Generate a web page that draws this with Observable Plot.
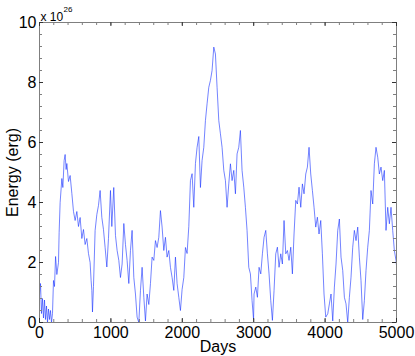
<!DOCTYPE html>
<html>
<head>
<meta charset="utf-8">
<script src="https://cdn.jsdelivr.net/npm/d3@7"></script>
<script src="https://cdn.jsdelivr.net/npm/@observablehq/plot@0.6"></script>
<style>
  html, body { margin: 0; padding: 0; background: #fff; }
</style>
</head>
<body>
<div id="chart"></div>
<script>
const days = [0,14,28,42,56,70,84,98,112,126,140,154,168,182,196,210,225,243,266,275,289,313,327,345,359,373,383,406,429,453,476,499,523,546,569,593,616,639,663,686,709,723,733,742,756,779,803,826,849,873,896,919,943,966,994,1013,1040,1064,1087,1111,1134,1157,1181,1204,1227,1251,1274,1297,1321,1344,1367,1391,1414,1437,1461,1484,1507,1531,1554,1577,1601,1624,1647,1671,1694,1717,1741,1764,1787,1811,1834,1857,1881,1904,1927,1951,1974,1997,2021,2044,2067,2091,2114,2137,2161,2184,2207,2231,2254,2277,2301,2324,2347,2371,2394,2417,2441,2464,2487,2511,2534,2557,2581,2604,2627,2651,2674,2697,2721,2744,2767,2791,2814,2837,2861,2884,2907,2931,2954,2977,2998,3005,3029,3052,3075,3099,3122,3145,3169,3192,3215,3239,3262,3285,3309,3332,3355,3379,3402,3425,3449,3472,3495,3519,3542,3565,3589,3612,3635,3659,3682,3705,3729,3752,3775,3799,3822,3845,3869,3892,3915,3939,3962,3985,4009,4037,4060,4083,4107,4130,4153,4177,4200,4223,4247,4270,4293,4317,4340,4363,4387,4410,4433,4457,4480,4503,4527,4550,4573,4597,4620,4643,4667,4690,4713,4737,4760,4783,4807,4830,4853,4877,4900,4923,4947,4970,4993,5000];
const energy = [0.9,1.3,0.3,0.8,0.15,0.75,0.1,0.55,0.0,0.45,0.1,0.4,0.0,0.3,1.4,1.2,2.2,1.6,2.0,3.0,4.0,4.8,4.5,5.4,5.6,5.1,5.3,4.7,4.9,4.3,3.7,3.4,3.7,3.2,3.5,2.8,3.1,2.6,2.8,2.3,2.0,1.4,1.07,0.35,1.2,3.07,3.6,3.9,4.4,3.5,3.1,2.5,1.85,2.8,4.4,3.2,4.5,2.9,2.4,2.07,1.5,1.95,3.3,2.6,2.07,1.3,2.4,3.07,1.5,0.95,0.18,0.0,1.07,1.84,0.84,0.05,0.95,0.6,1.3,2.18,2.07,2.73,2.5,2.84,3.73,3.18,2.4,2.84,2.18,2.4,1.84,1.5,1.07,2.18,1.3,0.84,0.4,1.1,1.5,2.5,2.3,3.2,4.73,4.96,3.84,5.3,5.84,6.2,4.5,5.4,5.84,6.73,7.29,7.84,8.07,8.4,9.18,8.95,7.84,6.73,6.29,5.84,5.07,4.73,3.84,4.62,5.29,4.73,5.07,4.29,5.62,5.84,6.4,5.07,4.51,3.84,3.07,1.84,1.62,0.73,0.1,0.95,1.18,0.84,1.84,1.62,2.29,2.84,3.07,2.29,1.62,0.73,0.07,1.07,2.29,2.51,1.84,2.29,1.95,3.4,2.29,2.4,2.07,2.51,1.62,2.95,4.07,3.95,4.51,3.84,4.62,4.29,4.95,5.18,5.84,4.95,4.4,3.84,3.18,3.51,2.95,3.4,2.29,0.95,0.18,0.29,0.62,0.95,0.05,1.18,1.95,3.07,3.45,2.18,1.73,0.84,0.62,0.0,0.84,1.51,2.51,3.07,2.73,3.18,2.18,1.4,0.1,0.73,1.73,2.51,3.07,4.4,3.95,5.29,5.84,5.51,4.95,5.18,4.73,5.07,3.07,3.84,3.29,3.84,3.07,2.4,2.07,1.9];
const xTicks = [0,1000,2000,3000,4000,5000];
const xMinor = [0,200,400,600,800,1000,1200,1400,1600,1800,2000,2200,2400,2600,2800,3000,3200,3400,3600,3800,4000,4200,4400,4600,4800,5000];
const yTicks = [0,2,4,6,8,10];
const yMinor = [0,0.4,0.8,1.2,1.6,2,2.4,2.8,3.2,3.6,4,4.4,4.8,5.2,5.6,6,6.4,6.8,7.2,7.6,8,8.4,8.8,9.2,9.6,10];
const xLabel = "Days";
const yLabel = "Energy (erg)";
const expBase = "x 10";
const expPower = "26";

const W = 415, H = 356;
const mL = 39, mR = 19, mT = 22, mB = 34;
const pW = W - mL - mR, pH = H - mT - mB;
const tick = 4, minorTick = 3;
const axisColor = "#7f7f7f";
const font = "'Liberation Sans', Arial, Helvetica, sans-serif";

const series = days.map((d, i) => ({d, v: energy[i]}));

const chart = Plot.plot({
  width: W, height: H,
  marginLeft: mL, marginRight: mR, marginTop: mT, marginBottom: mB,
  style: {fontFamily: font, fontSize: "16px", background: "#fff", color: "#000", overflow: "visible"},
  x: {domain: [0, 5000]},
  y: {domain: [0, 10]},
  marks: [
    Plot.line(series, {x: "d", y: "v", stroke: "#1530ff", strokeWidth: 0.6}),
    Plot.frame({stroke: axisColor, strokeWidth: 1}),
    // inward ticks on all four sides
    Plot.tickX(xMinor, {x: d => d, stroke: axisColor, insetTop: pH - minorTick}),
    Plot.tickX(xMinor, {x: d => d, stroke: axisColor, insetBottom: pH - minorTick}),
    Plot.tickX(xTicks, {x: d => d, stroke: "#333", insetTop: pH - tick}),
    Plot.tickX(xTicks, {x: d => d, stroke: "#333", insetBottom: pH - tick}),
    Plot.tickY(yMinor, {y: d => d, stroke: axisColor, insetRight: pW - minorTick}),
    Plot.tickY(yMinor, {y: d => d, stroke: axisColor, insetLeft: pW - minorTick}),
    Plot.tickY(yTicks, {y: d => d, stroke: "#333", insetRight: pW - tick}),
    Plot.tickY(yTicks, {y: d => d, stroke: "#333", insetLeft: pW - tick}),
    Plot.axisX({ticks: xTicks, tickSize: 0, tickPadding: 4, label: null, fontSize: 16, tickFormat: d => String(d)}),
    Plot.axisY({ticks: yTicks, tickSize: 0, tickPadding: 3, label: null, fontSize: 16, tickFormat: d => String(d)}),
    Plot.text([xLabel], {frameAnchor: "bottom", dy: 24, lineAnchor: "middle", fontSize: 16, fill: "#000"}),
    Plot.text([yLabel], {frameAnchor: "left", dx: -27, rotate: -90, lineAnchor: "middle", textAnchor: "middle", fontSize: 16, fill: "#000"}),
    Plot.text([expBase], {frameAnchor: "top-left", dx: 1, dy: -2, textAnchor: "start", lineAnchor: "bottom", fontSize: 12, fill: "#000"}),
    Plot.text([expPower], {frameAnchor: "top-left", dx: 24, dy: -11, textAnchor: "start", lineAnchor: "bottom", fontSize: 8, fill: "#000"})
  ]
});
document.getElementById("chart").appendChild(chart);
</script>
</body>
</html>
